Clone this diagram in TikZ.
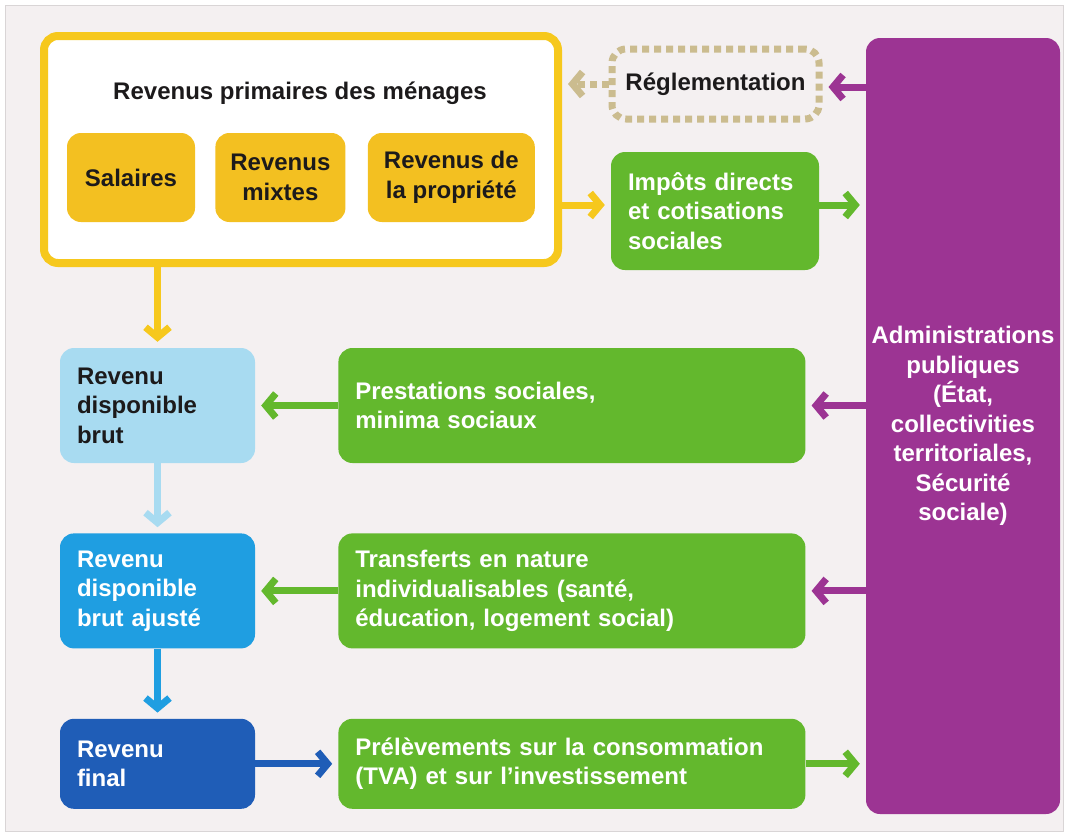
\documentclass[tikz,border=0pt]{standalone}
\usepackage{fontspec}
\setmainfont{Liberation Sans}
\usetikzlibrary{positioning,arrows.meta}
\definecolor{fond}{HTML}{F4F0F1}
\definecolor{cadre}{HTML}{D9D5D6}
\definecolor{jaune}{HTML}{F6C81D}
\definecolor{or}{HTML}{F3C021}
\definecolor{kaki}{HTML}{CBBC8F}
\definecolor{vert}{HTML}{63B82D}
\definecolor{pourpre}{HTML}{9C3493}
\definecolor{bleuclair}{HTML}{A8DBF1}
\definecolor{bleu}{HTML}{1F9EE1}
\definecolor{bleufonce}{HTML}{1F5DB7}
\definecolor{texte}{HTML}{1C1A1B}
\begin{document}
\begin{tikzpicture}[x=1pt,y=-1pt,
	main node/.style={rectangle,rounded corners=14pt,inner sep=0pt,font=\bfseries\fontsize{24}{29.5}\selectfont},
	yellow node/.style={main node,fill=or,text=texte,align=center,minimum height=89pt},
	green node/.style={main node,fill=vert,text=white,align=left,inner xsep=17pt},
	blue node/.style={main node,align=left,inner xsep=17pt,text width=161pt,minimum width=195pt},
	flow/.style={-{Straight Barb[length=10pt,width=24pt]},line width=7pt,shorten >=6pt,draw=#1}]
	
	\useasboundingbox (0,0) rectangle (1074,836);
	\fill[white] (0,0) rectangle (1074,836);
	\draw[fill=fond,draw=cadre,line width=1pt] (5,5) rectangle (1063,831);
	
	\node[draw=jaune,line width=8pt,fill=white,rounded corners=14pt,minimum width=514pt,minimum height=227pt] (primaires) at (301,149.5) {};
	\node[main node,text=texte] (titre) at (300,93) {Revenus primaires des ménages};
	\node[yellow node,minimum width=128pt] (salaires) at (131,177.5) {Salaires};
	\node[yellow node,minimum width=130pt,right=20pt of salaires] (mixtes) {Revenus\\mixtes};
	\node[yellow node,minimum width=167pt,right=22pt of mixtes] (propriete) {Revenus de\\la propriété};
	
	\node[main node,draw=kaki,line width=7pt,dash pattern=on 7pt off 5pt,text=texte,minimum width=207pt,minimum height=70pt] (regl) at (715.5,84) {Réglementation};
	\node[green node,text width=174pt,minimum height=118pt] (impots) at (715,211) {Impôts directs\\et cotisations\\sociales};
	\node[main node,fill=pourpre,text=white,align=center,text width=194pt,minimum height=776pt] (admin) at (963,426) {Administrations\\publiques\\(État,\\collectivities\\territoriales,\\Sécurité\\sociale)};
	
	\node[blue node,fill=bleuclair,text=texte,minimum height=115pt] (rdb) at (157.5,405.5) {Revenu\\disponible\\brut};
	\node[green node,text width=433pt,minimum height=115pt,right=83pt of rdb] (prest) {Prestations sociales,\\minima sociaux};
	\node[blue node,fill=bleu,text=white,minimum height=115pt,below=70pt of rdb] (rdba) {Revenu\\disponible\\brut ajusté};
	\node[green node,text width=433pt,minimum height=115pt,right=83pt of rdba] (transf) {Transferts en nature\\individualisables (santé,\\éducation, logement social)};
	\node[blue node,fill=bleufonce,text=white,minimum height=90pt,below=70pt of rdba] (rf) {Revenu\\final};
	\node[green node,text width=433pt,minimum height=90pt,right=83pt of rf] (prelev) {Prélèvements sur la consommation\\(TVA) et sur l’investissement};
	
	\draw[flow=jaune] ([yshift=6pt]primaires.east |- impots.west) -- ([yshift=6pt]impots.west);
	\draw[flow=jaune] (primaires.south -| rdb.north) -- (rdb.north);
	\draw[flow=kaki,dash pattern=on 7pt off 5pt] (regl.west) -- (regl.west -| primaires.east);
	\draw[flow=pourpre] ([yshift=-3pt]admin.west |- regl.east) -- ([yshift=-3pt]regl.east);
	\draw[flow=vert] ([yshift=6pt]impots.east) -- ([yshift=6pt]impots.east -| admin.west);
	\draw[flow=pourpre] (admin.west |- prest.east) -- (prest.east);
	\draw[flow=pourpre] (admin.west |- transf.east) -- (transf.east);
	\draw[flow=vert] (prest) -- (rdb);
	\draw[flow=vert] (transf) -- (rdba);
	\draw[flow=bleuclair] (rdb) -- (rdba);
	\draw[flow=bleu] (rdba) -- (rf);
	\draw[flow=bleufonce] (rf) -- (prelev);
	\draw[flow=vert] (prelev.east) -- (prelev.east -| admin.west);
\end{tikzpicture}
\end{document}
